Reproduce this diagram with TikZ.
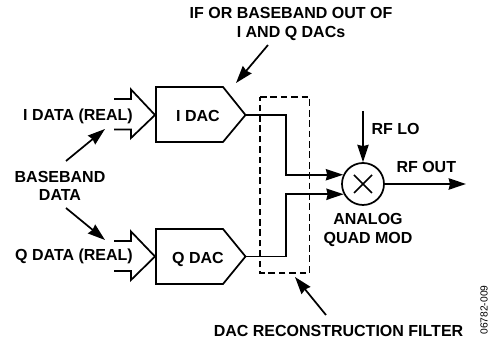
\documentclass[tikz,border=0pt]{standalone}
\usepackage{fontspec}
\setmainfont{Liberation Sans}
\usetikzlibrary{arrows.meta}
\tikzset{every picture/.style={line width=0.75pt}}
\tikzset{
	lbl/.style={inner sep=0pt,align=center,font=\fontsize{12}{14}\selectfont\bfseries},
	shp/.style={line width=1.3pt,line join=miter},
	wire/.style={line width=1.3pt,-{Stealth[length=13pt,width=8.5pt,inset=1pt]}},
	filt/.style={line width=1.3pt,dash pattern=on 5pt off 2.8pt}
}
\begin{document}
\begin{tikzpicture}[x=0.75pt,y=0.75pt,yscale=-1,xscale=1]
		\useasboundingbox (0,0) rectangle (490,341);
		
		%Shape: I DAC
		\draw [shp] (156,87) -- (223,87) -- (245.5,115) -- (223,142) -- (156,142) -- cycle ;
		%Shape: Q DAC
		\draw [shp] (156,229) -- (223,229) -- (245.5,256.5) -- (223,284) -- (156,284) -- cycle ;
		%Shape: I input
		\draw [shp] (114,99) -- (131,99) -- (131,89.5) -- (155,115) -- (131,138) -- (131,129.5) -- (114,129.5) ;
		%Shape: Q input
		\draw [shp] (114,241) -- (131,241) -- (131,231.5) -- (155,256.5) -- (131,280) -- (131,271) -- (114,271) ;
		%Shape: Filter
		\draw [filt] (260,97) -- (309.5,97) -- (309.5,273) -- (260,273) -- cycle ;
		
		% Text Node
		\node [lbl] (ifout) at (291,24) {IF OR BASEBAND OUT OF\\I AND Q DACs};
		\node [lbl] (idata) at (78,116) {I DATA (REAL)};
		\node [lbl] (qdata) at (74,256.5) {Q DATA (REAL)};
		\node [lbl] (bbdata) at (60,186) {BASEBAND\\DATA};
		\node [lbl] (idac) at (198,116) {I DAC};
		\node [lbl] (qdac) at (198,259) {Q DAC};
		\node [lbl,anchor=west] (rflo) at (371,129) {RF LO};
		\node [lbl,anchor=west] (rfout) at (396,167) {RF OUT};
		\node [lbl] (quadmod) at (368,230) {ANALOG\\QUAD MOD};
		\node [lbl] (filter) at (338.5,331) {DAC RECONSTRUCTION FILTER};
		\node [inner sep=0pt,rotate=90,font=\fontsize{7.7}{9}\selectfont] (figno) at (484,310) {06782-009};
		
		% Mixer
		\node [draw,shp,circle,inner sep=0pt,minimum size=31.5pt] (mixer) at (363,184) {};
		\draw [shp] (mixer.center) ++(-9,-9) -- ++(18,18) ;
		\draw [shp] (mixer.center) ++(9,-9) -- ++(-18,18) ;
		
		% Ends of the connectors
		\coordinate (itip) at (245.5,115);
		\coordinate (qtip) at (245.5,256.5);
		\coordinate (ibend) at (286,115);
		\coordinate (qbend) at (286,256.5);
		\coordinate (lofree) at (363,111);
		\coordinate (outend) at (466,184);
		\coordinate (iffree) at (268,45);
		\coordinate (ifend) at (236,83);
		\coordinate (bbup) at (66,161);
		\coordinate (bbupend) at (105,129);
		\coordinate (bbdown) at (66,208);
		\coordinate (bbdownend) at (105,240);
		\coordinate (filtfree) at (326,315);
		\coordinate (filtend) at (295,277);
		
		\draw [wire] (itip) -- (ibend) |- (mixer.155) ;
		\draw [wire] (qtip) -- (qbend) |- (mixer.208) ;
		\draw [wire] (lofree) -- (mixer.north) ;
		\draw [wire] (mixer.east) -- (outend) ;
		\draw [wire] (iffree) -- (ifend) ;
		\draw [wire] (bbup) -- (bbupend) ;
		\draw [wire] (bbdown) -- (bbdownend) ;
		\draw [wire] (filtfree) -- (filtend) ;
		
		\end{tikzpicture}
\end{document}
